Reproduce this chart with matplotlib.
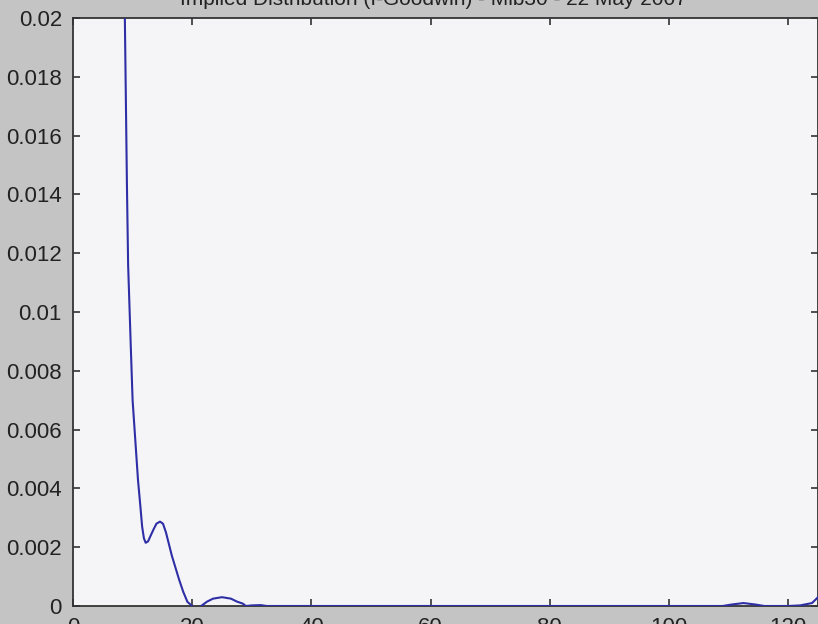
import numpy as np
import matplotlib.pyplot as plt

# implied density
strike = [8.4, 8.7, 9.05, 9.25, 9.7, 10.0, 10.5, 10.9, 11.3, 11.6, 11.9, 12.2, 12.6,
          13.0, 13.5, 14.0, 14.6, 15.1, 15.6, 16.1, 16.6, 17.2, 17.8, 18.5, 19.2,
          20.0, 20.7, 21.5, 22.5, 23.5, 25.0, 26.5, 27.5, 28.5, 29.0, 30.0, 31.5,
          32.5, 40, 60, 80, 100, 109, 110.5, 112.5, 114.5, 116, 120, 122, 124, 125]
density = [0.026, 0.020, 0.0143, 0.0116, 0.0088, 0.0070, 0.0055, 0.0043, 0.0034,
           0.0027, 0.0023, 0.00215, 0.0022, 0.00238, 0.0026, 0.0028, 0.00287,
           0.0028, 0.0025, 0.0021, 0.0017, 0.0013, 0.0009, 0.00048, 0.00014, 0.0,
           -0.0001, 0.0, 0.00015, 0.00025, 0.0003, 0.00025, 0.00015, 0.00008, 0.0,
           0.00002, 0.00003, 0.0, 0.0, 0.0, 0.0, 0.0, 0.0, 0.00005, 0.0001,
           0.00005, 0.0, 0.0, 0.00002, 0.0001, 0.0003]

xticks = [0, 20, 40, 60, 80, 100, 120]
yticks = [0, 0.002, 0.004, 0.006, 0.008, 0.01, 0.012, 0.014, 0.016, 0.018, 0.02]
ylabels = ['0', '0.002', '0.004', '0.006', '0.008', '0.01', '0.012', '0.014',
           '0.016', '0.018', '0.02']

plt.rcParams['font.family'] = ['Liberation Sans', 'DejaVu Sans']

fig = plt.figure(figsize=(8.18, 6.24), dpi=100, facecolor='#c4c4c4')
ax = fig.add_axes([73/818, 18/624, 745/818, 588/624])
ax.set_facecolor('#f5f5f7')

# line drawn over the spines, like the zero baseline in the screenshot
ax.plot(strike, density, color='#2e2ea6', lw=1.5, zorder=3)

ax.set_xlim(0, 125)
ax.set_ylim(0, 0.02)
ax.set_xticks(xticks)
ax.set_yticks(yticks)
ax.set_yticklabels(ylabels)
ax.tick_params(direction='in', top=True, right=True, length=5, width=1.2,
               labelsize=16, color='#333333', labelcolor='#222222')
ax.tick_params(axis='x', pad=8)
ax.tick_params(axis='y', pad=8)
for s in ax.spines.values():
    s.set_color('#333333')
    s.set_linewidth(1.3)

# title sits partly above the top edge, as in the source screenshot
fig.text(0.53, 619/624, 'Implied Distribution (I-Goodwin) - Mib30 - 22 May 2007',
         ha='center', va='baseline', fontsize=15, color='#222222')

fig.savefig('out.png', dpi=100, facecolor=fig.get_facecolor())
